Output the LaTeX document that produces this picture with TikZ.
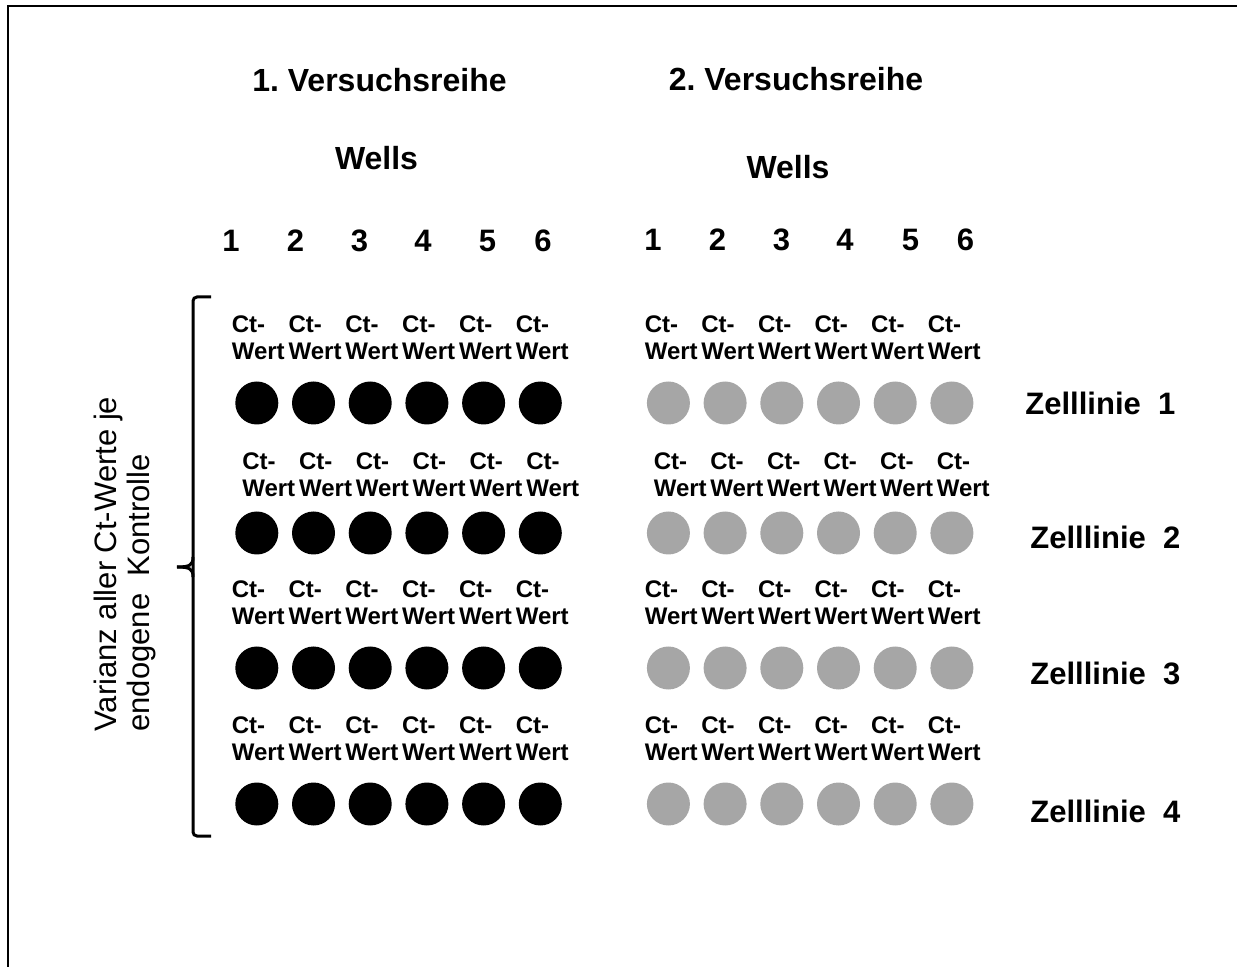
\documentclass[tikz,border=0pt]{standalone}
\usepackage{fontspec}
\setmainfont{Liberation Sans}
\frenchspacing

\definecolor{wellgrau}{RGB}{166,166,166}

\tikzset{
	kopf/.style={font=\bfseries\fontsize{16}{19}\selectfont},
	nummer/.style={font=\bfseries\fontsize{15.5}{18}\selectfont},
	ctwert/.style={font=\bfseries\fontsize{12}{13.5}\selectfont, align=left, anchor=north west, inner sep=0pt},
	zelle/.style={font=\bfseries\fontsize{15.5}{18}\selectfont, anchor=west, inner sep=0pt},
	well/.style={circle, minimum size=21.5pt, inner sep=0pt},
	klammer/.style={line width=1.5pt}
}

\begin{document}
\begin{tikzpicture}[x=0.5pt, y=-0.5pt]
		%%%%% START %%%%%
		\useasboundingbox (0,0) rectangle (1237,967);
		
		% frame, only left and top edge visible
		\draw[line width=1pt] (8,967) -- (8,6) -- (1237,6);
		
		\node[kopf] (reihe1) at (379.5,80) {1. Versuchsreihe};
		\node[kopf] (reihe2) at (796,79) {2. Versuchsreihe};
		\node[kopf] (wells1) at (376.5,158.5) {Wells};
		\node[kopf] (wells2) at (788,167) {Wells};
		
		\foreach \n/\x in {1/231,2/295.5,3/359.5,4/423,5/487.5,6/543}
			\node[nummer] (nr1-\n) at (\x,241) {\n};
		\foreach \n/\x in {1/653,2/717.5,3/781.5,4/845,5/910.5,6/965.5}
			\node[nummer] (nr2-\n) at (\x,240) {\n};
		
		% rows: label top, well centre, label shift left / right
		\foreach \r/\yl/\yw/\dl/\dr in {1/315.5/403/0/0, 2/452.5/533/10.5/9, 3/580.5/668/0/0, 4/716.5/804/0/0} {
			\foreach \i in {1,...,6} {
				\node[ctwert] (ct1-\r-\i) at ({231.4+\dl+56.8*(\i-1)},\yl) {Ct-\\Wert};
				\node[ctwert] (ct2-\r-\i) at ({644.4+\dr+56.6*(\i-1)},\yl) {Ct-\\Wert};
				\node[well, fill=black] (w1-\r-\i) at ({256.8+56.7*(\i-1)},\yw) {};
				\node[well, fill=wellgrau] (w2-\r-\i) at ({668.4+56.7*(\i-1)},\yw) {};
			}
		}
		
		\foreach \r/\x/\y in {1/1025/403, 2/1030/537, 3/1030/673, 4/1030/811}
			\node[zelle] (zl-\r) at (\x,\y) {Zelllinie\ \ \r};
		
		% bracket
		\coordinate (spitze) at (177,567);
		\draw[klammer, rounded corners=2pt] (211,297) -- (193,297) -- (193,836) -- (211,836);
		\draw[klammer] (193,557) .. controls (193,565) and (190,567) .. (spitze);
		\draw[klammer] (193,577) .. controls (193,569) and (190,567) .. (spitze);
		
		\node[rotate=90, align=left, anchor=north west, inner sep=0pt, font=\fontsize{15.5}{16.5}\selectfont] (varianz) at (94,732) {Varianz aller Ct-Werte je\\endogene\ \ Kontrolle};
		
		%%%%% END %%%%%
\end{tikzpicture}
\end{document}
